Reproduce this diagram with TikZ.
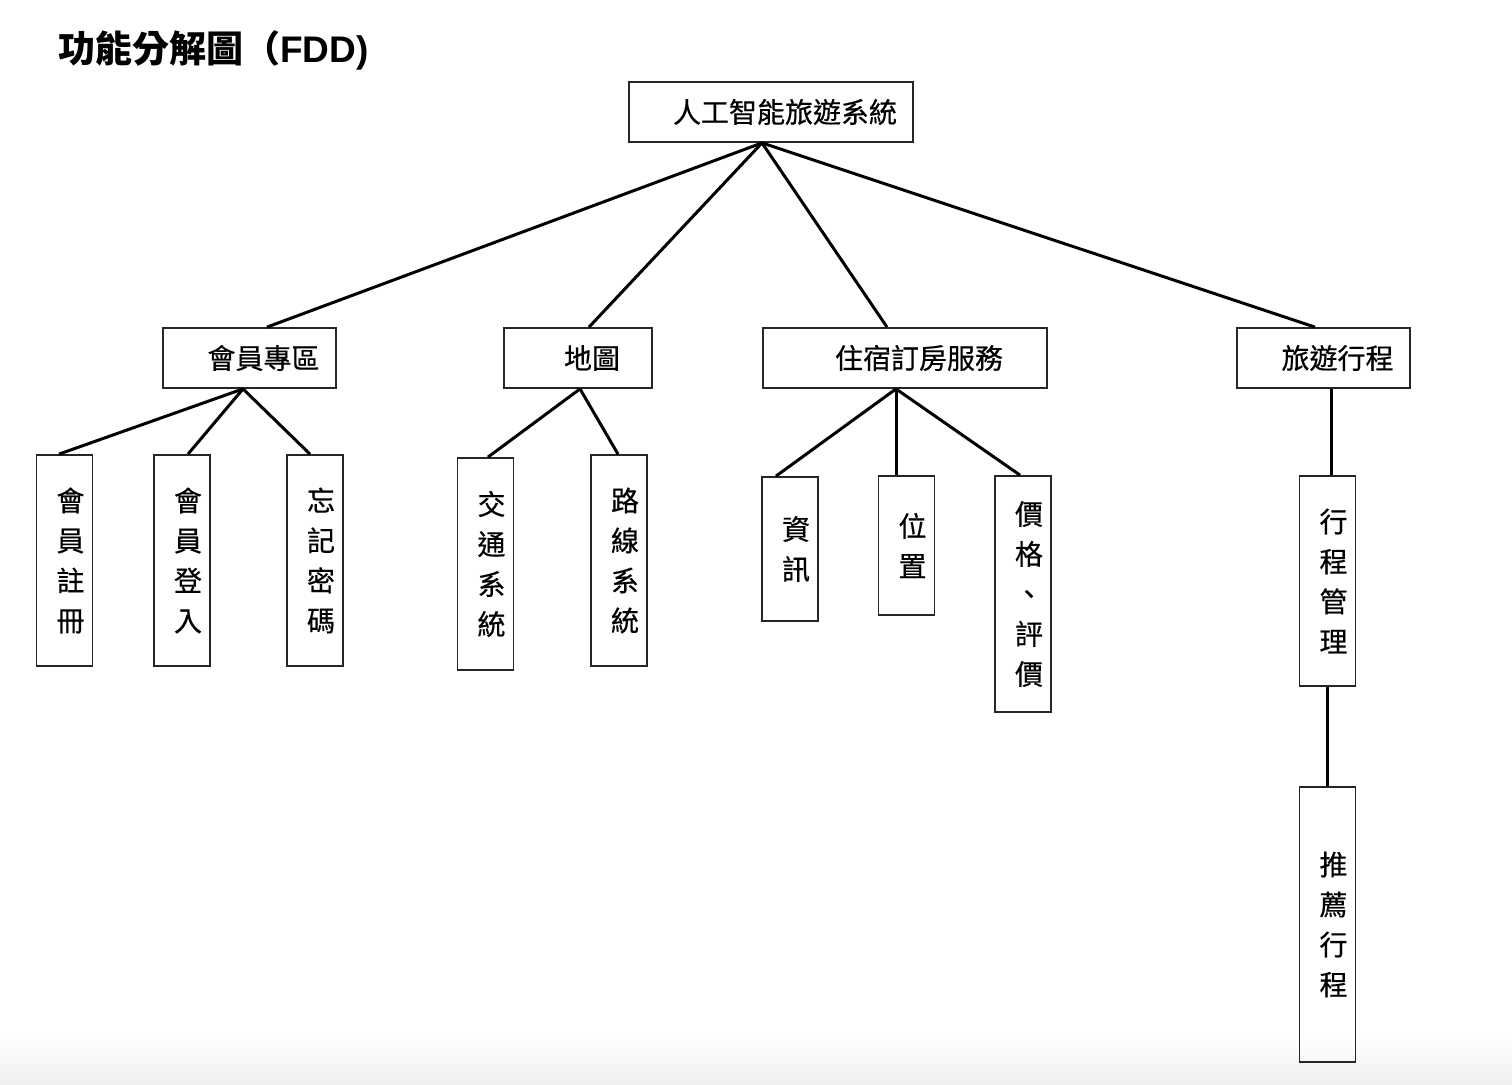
\documentclass[tikz,border=0pt]{standalone}
\usepackage{fontspec}
\newfontfamily\cjk{Noto Sans CJK TC}
\newfontfamily\cjkbox[FakeBold=0.5]{Noto Sans CJK TC}
\newfontfamily\latin{Liberation Sans}
\usetikzlibrary{positioning}

\tikzset{
  hbox/.style={draw=black!85, line width=0.9pt, minimum height=30pt,
    inner sep=0pt, font=\cjkbox\fontsize{14}{20}\selectfont,
    execute at begin node={\hspace*{14pt}}},
  vbox/.style={draw=black!85, line width=0.9pt, minimum width=28pt,
    inner sep=0pt, text width=20pt, align=right,
    font=\cjkbox\fontsize{14}{20}\selectfont},
  link/.style={line width=1.5pt}
}

\begin{document}
\begin{tikzpicture}[x=0.5pt, y=-0.5pt]
  \useasboundingbox (0,0) rectangle (1512,1084);
  \shade[top color=white, bottom color=black!6] (0,1035) rectangle (1512,1084);

  \node[anchor=west, font=\cjk\bfseries\fontsize{18.5}{22}\selectfont] (title) at (51,50) {功能分解圖（{\latin FDD)}};

  % top level
  \node[hbox, minimum width=142pt] (system) at (771,112) {人工智能旅遊系統};
  \node[hbox, minimum width=86.5pt] (memberArea) at (249.5,358) {會員專區};
  \node[hbox, minimum width=74pt] (mapNode) at (578,358) {地圖};
  \node[hbox, minimum width=142pt] (lodging) at (905,358) {住宿訂房服務};
  \node[hbox, minimum width=86.5pt] (itinerary) at (1323.5,358) {旅遊行程};

  % second level
  \node[vbox, minimum height=105.5pt] (register) at (64.5,560.5) {會\\員\\註\\冊};
  \node[vbox, minimum height=105.5pt] (login) at (182,560.5) {會\\員\\登\\入};
  \node[vbox, minimum height=105.5pt] (forgotPwd) at (315,560.5) {忘\\記\\密\\碼};
  \node[vbox, minimum height=106pt] (transport) at (485.5,564) {交\\通\\系\\統};
  \node[vbox, minimum height=105.5pt] (route) at (619,560.5) {路\\線\\系\\統};
  \node[vbox, minimum height=72pt] (info) at (790,549) {資\\訊};
  \node[vbox, minimum height=69.5pt] (location) at (906.5,545.5) {位\\置};
  \node[vbox, minimum height=118pt] (priceReview) at (1023,594) {價\\格\\、\\評\\價};
  \node[vbox, minimum height=105pt] (tripManage) at (1327.5,581) {行\\程\\管\\理};
  \node[vbox, minimum height=137.5pt] (recommendTrip) at (1327.5,924.5) {推\\薦\\行\\程};

  \draw[link] ([xshift=-4.5pt]system.south) -- ([xshift=8.75pt]memberArea.north);
  \draw[link] ([xshift=-4.5pt]system.south) -- ([xshift=5.5pt]mapNode.north);
  \draw[link] ([xshift=-4.5pt]system.south) -- ([xshift=-9pt]lodging.north);
  \draw[link] ([xshift=-4.5pt]system.south) -- ([xshift=-4.25pt]itinerary.north);

  \draw[link] ([xshift=-3.25pt]memberArea.south) -- ([xshift=-2.75pt]register.north);
  \draw[link] ([xshift=-3.25pt]memberArea.south) -- ([xshift=3pt]login.north);
  \draw[link] ([xshift=-3.25pt]memberArea.south) -- ([xshift=-2.5pt]forgotPwd.north);

  \draw[link] ([xshift=1pt]mapNode.south) -- ([xshift=1.25pt]transport.north);
  \draw[link] ([xshift=1pt]mapNode.south) -- ([xshift=-0.5pt]route.north);

  \draw[link] ([xshift=-4.5pt]lodging.south) -- ([xshift=-7pt]info.north);
  \draw[link] ([xshift=-4.5pt]lodging.south) -- ([xshift=-5.25pt]location.north);
  \draw[link] ([xshift=-4.5pt]lodging.south) -- ([xshift=-1.5pt]priceReview.north);

  \draw[link] ([xshift=3.75pt]itinerary.south) -- ([xshift=1.75pt]tripManage.north);
  \draw[link] (tripManage.south) -- (recommendTrip.north);
\end{tikzpicture}
\end{document}
